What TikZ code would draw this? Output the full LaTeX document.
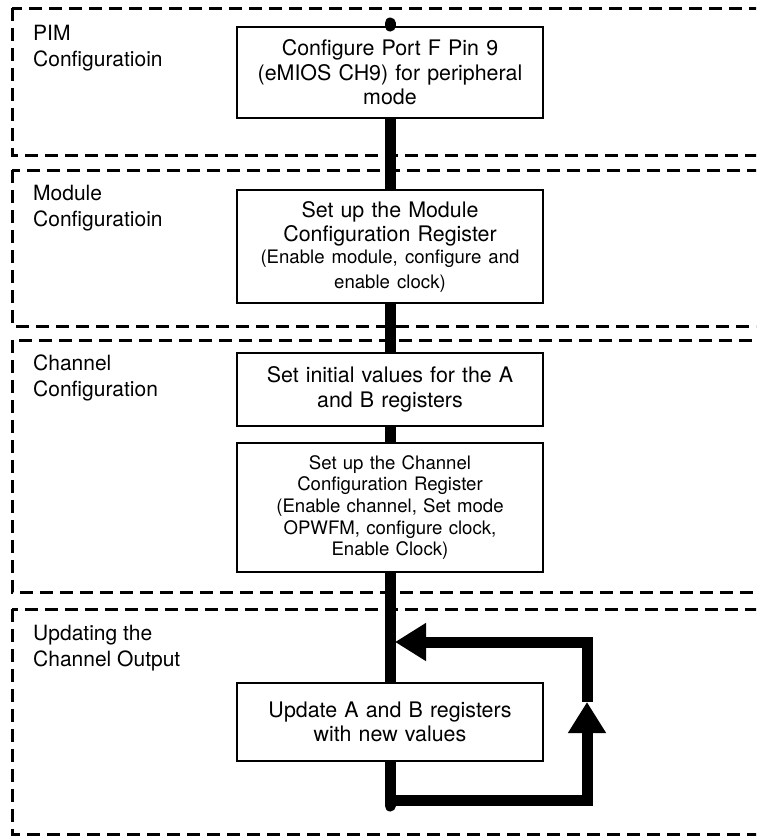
\documentclass[tikz,border=0pt]{standalone}
\usepackage{fontspec}
\setmainfont{TeX Gyre Heros}
\usetikzlibrary{arrows.meta}
\pgfdeclarelayer{frames}
\pgfdeclarelayer{flowlayer}
\pgfsetlayers{frames,flowlayer,main}
\begin{document}
\begin{tikzpicture}[x=1pt,y=-1pt,
  stage/.style={draw=black,line width=3pt,dash pattern=on 13pt off 7pt},
  stagelabel/.style={anchor=north west,inner sep=0pt,align=left,
    font=\fontsize{21}{25.5}\selectfont},
  stepbox/.style={draw=black,line width=2pt,fill=white,inner sep=0pt,
    minimum width=306pt,text width=298pt,align=center,
    font=\fontsize{21.4}{24.5}\selectfont},
  flow/.style={line width=11pt,line cap=round},
  loopline/.style={line width=11pt},
  head/.style={-{Triangle[length=31pt,width=36pt]}}
]
\useasboundingbox (0,0) rectangle (756,836);

% stage frames
\begin{pgfonlayer}{frames}
\clip (0,0) rectangle (756,836);
\draw[stage] (12,8)   rectangle (800,155);
\draw[stage] (12,170) rectangle (800,326);
\draw[stage] (12,340) rectangle (800,592);
\draw[stage] (12,609) rectangle (800,834);
\end{pgfonlayer}

% stage titles
\node[stagelabel] (lpim)  at (33,25)  {PIM\\Configuratioin};
\node[stagelabel] (lmod)  at (33,185) {Module\\Configuratioin};
\node[stagelabel] (lchan) at (33,355) {Channel\\Configuration};
\node[stagelabel] (lupd)  at (33,625) {Updating the\\Channel Output};

% spine end points and loop corners
\coordinate (top) at (390,23);
\coordinate (bot) at (390,806);
\coordinate (lb)  at (390,800);
\coordinate (lr)  at (587,800);
\coordinate (um)  at (587,702);
\coordinate (ur)  at (587,642);
\coordinate (ul)  at (395,642);

% steps
\node[stepbox,minimum height=91pt] (s1) at (390,72.5)
  {Configure Port F Pin 9\\(eMIOS CH9) for peripheral\\mode};
\node[stepbox,minimum height=113pt] (s2) at (390,246.5)
  {Set up the Module\\Configuration Register\par
   \fontsize{18.6}{22}\selectfont (Enable module, configure and\\enable clock)};
\node[stepbox,minimum height=73pt] (s3) at (390,389.5)
  {Set initial values for the A\\and B registers};
\node[stepbox,minimum height=129pt,font=\fontsize{18.6}{21.7}\selectfont] (s4) at (390,507.5)
  {Set up the Channel\\Configuration Register\\(Enable channel, Set mode\\OPWFM, configure clock,\\Enable Clock)};
\node[stepbox,minimum height=78pt] (s5) at (390,722)
  {Update A and B registers\\with new values};

% entry stub above the first step
\draw[flow] (top) -- (s1.north);

% main flow, drawn under the step boxes
\begin{pgfonlayer}{flowlayer}
\draw[flow] (s1.center) -- (s2.center);
\draw[flow] (s2.center) -- (s3.center);
\draw[flow] (s3.center) -- (s4.center);
\draw[flow] (s4.center) -- (s5.center);
\draw[flow] (s5.center) -- (bot);

% feedback loop
\draw[loopline,head] (lb) -- (lr) -- (um);
\draw[loopline,head] (um) -- (ur) -- (ul);
\end{pgfonlayer}
\end{tikzpicture}
\end{document}
